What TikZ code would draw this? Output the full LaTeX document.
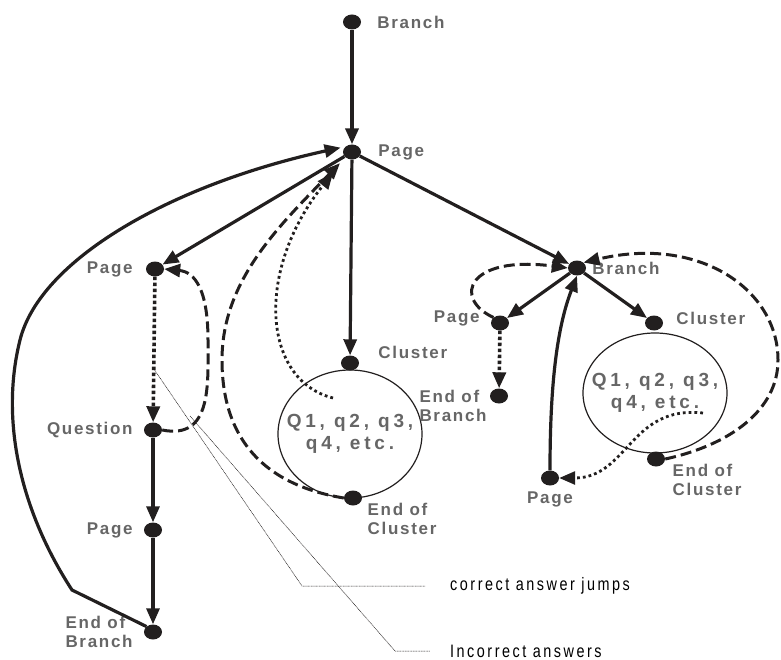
\documentclass[tikz,border=0pt]{standalone}
\usepackage{fontspec}
\newfontfamily\lblfont{Liberation Sans}[LetterSpace=10]
\newfontfamily\qfont{Liberation Sans}[LetterSpace=20]
\newfontfamily\legfont{Liberation Sans}[FakeStretch=0.8,LetterSpace=14]
\usetikzlibrary{arrows.meta,positioning,shapes.geometric,calc}
\definecolor{ink}{RGB}{34,31,31}
\definecolor{lblgray}{RGB}{102,102,102}
\tikzset{
  dot/.style={ellipse,fill=ink,minimum width=18pt,minimum height=15pt,inner sep=0pt},
  lbl/.style={font=\lblfont\bfseries\fontsize{17}{19}\selectfont,text=lblgray,inner sep=0pt,align=left},
  blob/.style={ellipse,draw=ink,line width=1.2pt,minimum width=144pt,minimum height=128pt,inner sep=0pt},
  blobtxt/.style={font=\qfont\bfseries\fontsize{19}{22}\selectfont,text=lblgray,inner sep=0pt,align=center},
  legend/.style={font=\legfont\fontsize{18}{20}\selectfont,inner sep=0pt,anchor=west},
  arr/.style={draw=ink,line width=3.2pt,-{Triangle[length=16pt,width=13pt]}},
  dasharr/.style={arr,line width=3pt,dash pattern=on 11pt off 5pt},
  dotarr/.style={arr,line width=3.6pt,dash pattern=on 3.5pt off 2.5pt},
  dotcurve/.style={arr,line width=2.8pt,dash pattern=on 2.8pt off 3pt},
  leader/.style={draw=ink,line width=0.5pt,dash pattern=on 1pt off 0.6pt},
}
\begin{document}
\begin{tikzpicture}[x=1pt,y=-1pt]
  \useasboundingbox (0,0) rectangle (781,660);
  % clusters
  \node[blob] (cl1) at (350,434) {};
  \node[blobtxt] (tx1) at (cl1) {Q1, q2, q3,\\q4, etc.};
  \node[blob,minimum height=120pt] (cl2) at (655,393) {};
  \node[blobtxt] (tx2) at (cl2) {Q1, q2, q3,\\q4, etc.};
  % left branch
  \node[dot] (bt) at (352,22) {};
  \node[dot] (pm) at (352,152) {};
  \node[dot] (pl) at (155,269) {};
  \node[dot] (qu) at (153,430) {};
  \node[dot] (pg) at (153,530) {};
  \node[dot] (eb) at (153,632) {};
  \node[dot] (cs1) at (350,363) {};
  \node[dot] (ce1) at (353,498) {};
  % right branch
  \node[dot] (br) at (577,268) {};
  \node[dot] (pr) at (500,323) {};
  \node[dot] (ebr) at (499,396) {};
  \node[dot] (cs2) at (654,323) {};
  \node[dot] (ce2) at (656,459) {};
  \node[dot] (pb) at (550,478) {};
  % labels
  \node[lbl,right=16pt of bt] (btl) {Branch};
  \node[lbl,right=17pt of pm] (pml) {Page};
  \node[lbl,left=13pt of pl] (pll) {Page};
  \node[lbl,left=11pt of qu] (qul) {Question};
  \node[lbl,left=11pt of pg] (pgl) {Page};
  \node[lbl,left=11pt of eb] (ebl) {End of\\Branch};
  \node[lbl,right=19pt of cs1,yshift=11pt] (cs1l) {Cluster};
  \node[lbl,below right=0pt and 8pt of ce1] (ce1l) {End of\\Cluster};
  \node[lbl,right=6pt of br] (brl) {Branch};
  \node[lbl,left=11pt of pr,yshift=5pt] (prl) {Page};
  \node[lbl,left=3pt of ebr,yshift=-10pt] (ebrl) {End of\\Branch};
  \node[lbl,right=13pt of cs2,yshift=5pt] (cs2l) {Cluster};
  \node[lbl,below right=0pt and 10pt of ce2] (ce2l) {End of\\Cluster};
  \node[lbl,below=6pt of pb] (pbl) {Page};
  % legend
  \node[legend] (cj) at (450,586) {correct answer jumps};
  \node[legend] (ia) at (450,651) {Incorrect answers};
  % solid arrows
  \draw[arr,line width=3.6pt] (bt) -- (pm);
  \draw[arr] (pm) -- (pl);
  \draw[arr] (pm) -- (cs1);
  \draw[arr] (pm) -- (br);
  \draw[arr] (qu) -- (pg);
  \draw[arr] (pg) -- (eb);
  \draw[arr] (br) -- (pr);
  \draw[arr] (br) -- (cs2);
  \draw[arr,shorten >=5pt] (eb.north west) -- (72,590) .. controls (20,510) and (0,420) .. (20,340)
    .. controls (40,260) and (170,185) .. (pm.north west);
  \draw[arr] (pb) .. controls (550,390) and (556,330) .. (br.south);
  % dotted
  \draw[dotarr] (pl) -- (qu);
  \draw[dotarr] (pr) -- (ebr);
  \coordinate (d1) at (333,398);
  \draw[dotcurve,shorten >=20pt] (d1) .. controls (262,380) and (255,270) .. (pm.south west);
  \coordinate (d2) at (703,413);
  \draw[dotcurve] (d2) .. controls (630,405) and (628,478) .. (pb.east);
  % dashed
  \draw[dasharr] (qu.east) .. controls (212,440) and (208,385) .. (208,340)
    .. controls (208,290) and (195,272) .. (pl.east);
  \draw[dasharr,shorten >=8pt] (ce1.west) .. controls (265,485) and (222,440) .. (222,360)
    .. controls (222,280) and (280,225) .. (pm.south west);
  \draw[dasharr] (pr.north west) .. controls (452,298) and (468,255) .. (br.west);
  \draw[dasharr] (ce2.east) .. controls (730,445) and (778,410) .. (778,360)
    .. controls (778,290) and (700,235) .. (br.north east);
  % leaders
  \coordinate (la) at ($(pl)!0.62!(qu)$);
  \coordinate (lb) at (190,416);
  \draw[leader] (la) -- (302,586) -- ([xshift=-25pt]cj.west);
  \draw[leader] (lb) -- (395,651) -- ([xshift=-20pt]ia.west);
\end{tikzpicture}
\end{document}
